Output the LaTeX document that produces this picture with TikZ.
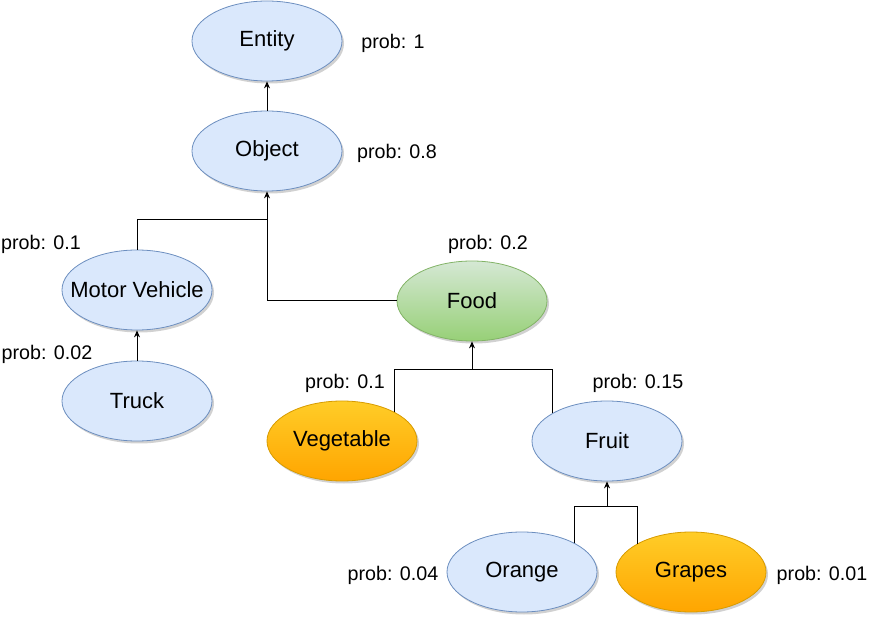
\documentclass[tikz,border=0pt]{standalone}
\usepackage{fontspec}
\setmainfont{Liberation Sans}
\usetikzlibrary{shapes.geometric, shadows, arrows.meta}

\definecolor{bluefill}{HTML}{DAE8FC}
\definecolor{bluedraw}{HTML}{6C8EBF}
\definecolor{greentop}{HTML}{D5E8D4}
\definecolor{greenbot}{HTML}{97D077}
\definecolor{greendraw}{HTML}{82B366}
\definecolor{orangetop}{HTML}{FFCD28}
\definecolor{orangebot}{HTML}{FFA500}
\definecolor{orangedraw}{HTML}{D79B00}

\begin{document}
\begin{tikzpicture}
[x=1pt, y=-1pt,
every node/.style={inner sep=0pt},
concept/.style={ellipse, minimum width=150pt, minimum height=80pt, line width=0.8pt,
  font=\fontsize{22pt}{25pt}\selectfont,
  drop shadow={shadow xshift=2pt, shadow yshift=-2.5pt, fill=black, opacity=0.18}},
bluenode/.style={concept, fill=bluefill, draw=bluedraw},
greennode/.style={concept, top color=greentop, bottom color=greenbot, draw=greendraw},
orangenode/.style={concept, top color=orangetop, bottom color=orangebot, draw=orangedraw},
problabel/.style={font=\fontsize{19.7pt}{23pt}\selectfont},
link/.style={line width=1pt, color=black},
isa/.style={link, -{Stealth[length=7pt, width=6pt]}}]
\useasboundingbox (0,0) rectangle (873,617);
\node (entity) [bluenode] at (267, 41) {Entity};
\node (object) [bluenode] at (267, 151) {Object};
\node (motor) [bluenode, inner xsep=-16pt] at (137, 290) {Motor Vehicle};
\node (truck) [bluenode] at (137, 401) {Truck};
\node (food) [greennode] at (472, 301) {Food};
\node (vegetable) [orangenode] at (342, 441) {Vegetable};
\node (fruit) [bluenode] at (607, 441) {Fruit};
\node (orange) [bluenode] at (522, 572) {Orange};
\node (grapes) [orangenode] at (691, 572) {Grapes};
% probabilities
\node (pentity) [problabel] at (393, 43) {prob: 1};
\node (pobject) [problabel] at (397, 153) {prob: 0.8};
\node (pmotor) [problabel] at (41, 244) {prob: 0.1};
\node (ptruck) [problabel] at (47, 354) {prob: 0.02};
\node (pfood) [problabel] at (488, 244) {prob: 0.2};
\node (pvegetable) [problabel] at (345, 383) {prob: 0.1};
\node (pfruit) [problabel] at (638, 383) {prob: 0.15};
\node (porange) [problabel] at (393, 575) {prob: 0.04};
\node (pgrapes) [problabel] at (822, 575) {prob: 0.01};
% junctions
\coordinate (objjoin) at (267, 220);
\coordinate (foodjoin) at (472, 370);
\coordinate (fruitjoin) at (607, 506);
% edges
\draw [isa] (object) to (entity);
\draw [isa] (truck) to (motor);
\draw [link] (motor.north) |- (objjoin);
\draw [isa] (food.west) -| (object.south);
\draw [link] (fruit.153) |- (foodjoin);
\draw [isa] (vegetable.29) |- (foodjoin) -- (food.south);
\draw [link] (grapes.152) |- (fruitjoin);
\draw [isa] (orange.29) |- (fruitjoin) -- (fruit.south);
\end{tikzpicture}
\end{document}
